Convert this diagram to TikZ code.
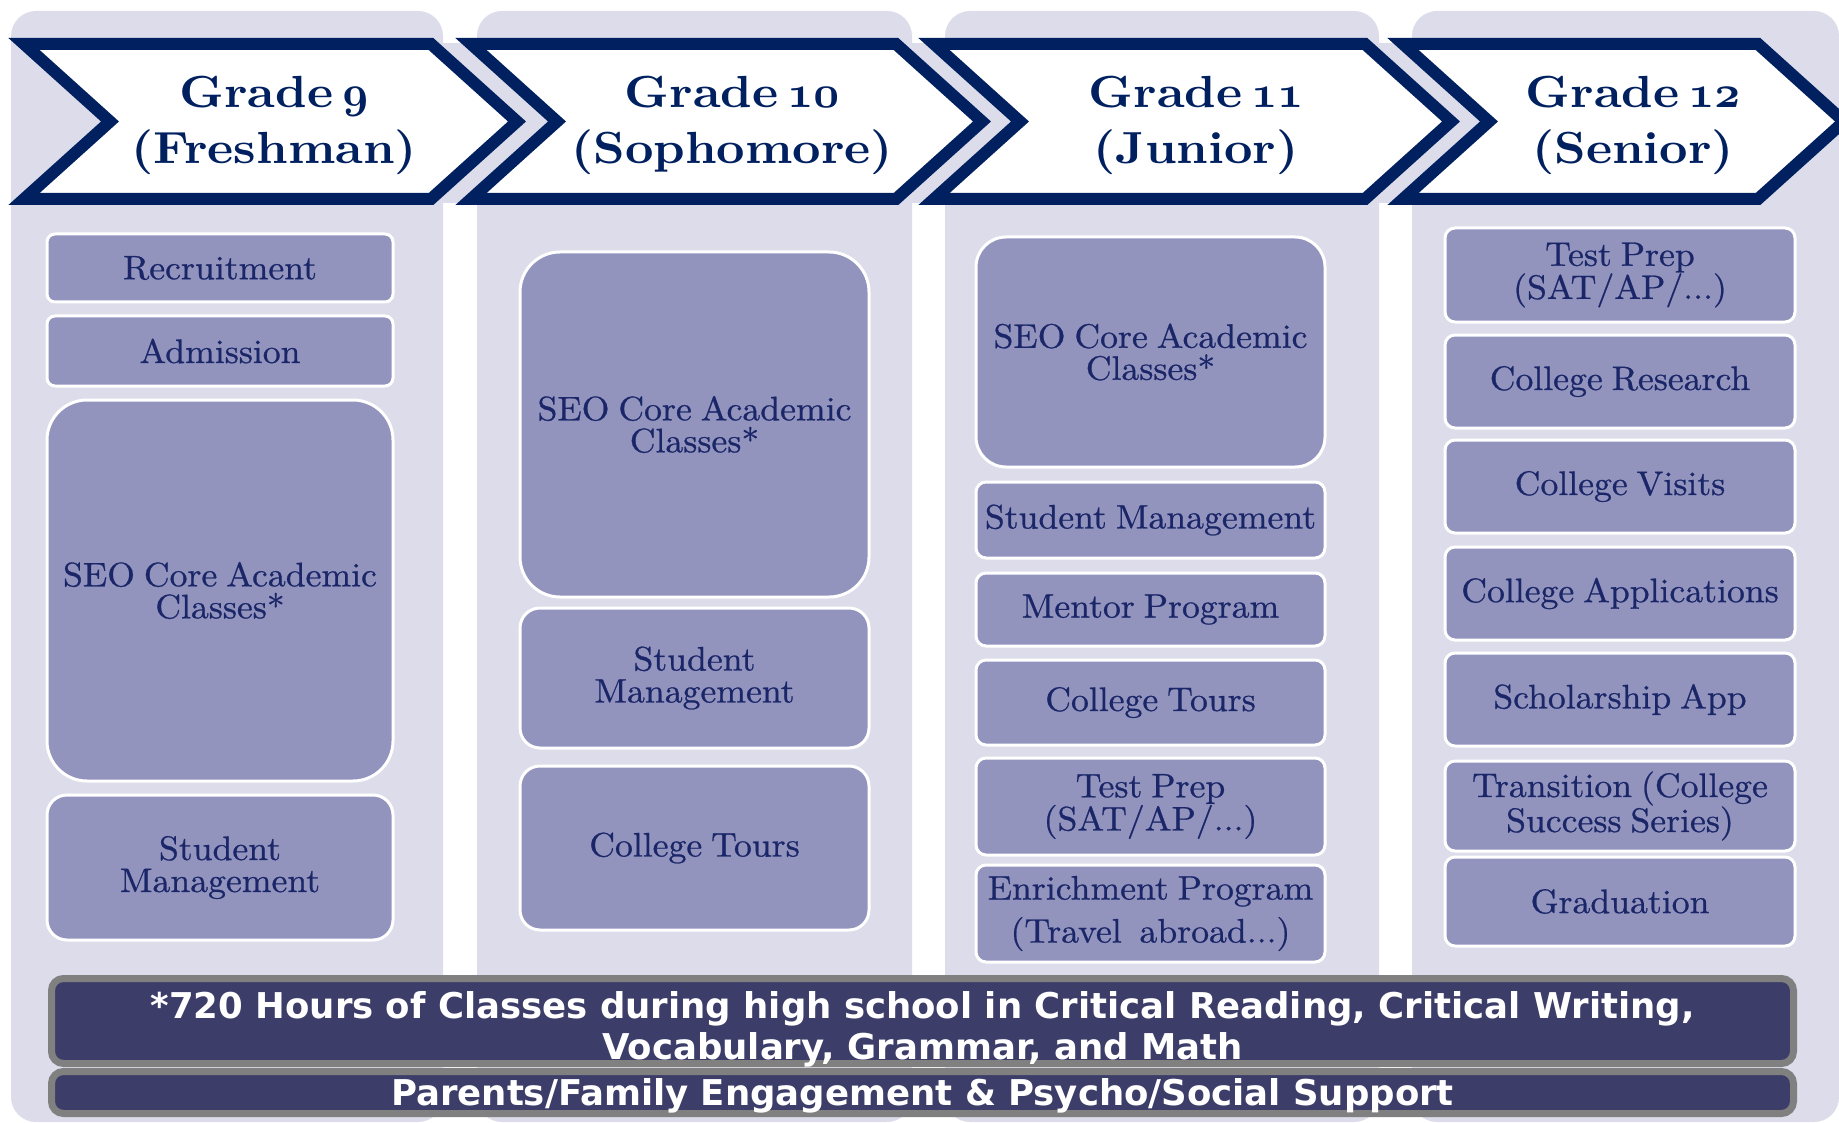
\documentclass[tikz,border=0pt]{standalone}
\usepackage{fontspec}
\newfontfamily\barfont{DejaVu Sans}
\newfontfamily\boxfont{lmroman10-regular.otf}[FakeStretch=1.05, FakeBold=0.7, WordSpace=0.75]
\newfontfamily\hdrfont{lmroman10-bold.otf}[FakeStretch=1.1]
% old-style figures from the bold math italic, scalable to any size
\DeclareFontFamily{OML}{osfb}{}
\DeclareFontShape{OML}{osfb}{b}{it}{<-> cmmib10}{}
\newcommand\osfig[1]{{\usefont{OML}{osfb}{b}{it}#1}}
\newcommand\gradeword{Grade\hspace{0.2em}}
\definecolor{colbg}{HTML}{DCDCEA}
\definecolor{navy}{HTML}{002060}
\definecolor{boxfill}{HTML}{9294BE}
\definecolor{boxtext}{HTML}{1A2668}
\definecolor{barfill}{HTML}{3D3D69}
\definecolor{bargray}{HTML}{808080}
\begin{document}
\begin{tikzpicture}[x=1pt,y=-1pt,
  column/.style={fill=colbg, rounded corners=25pt},
  chevron/.style={draw=navy, line width=12pt, fill=white, line join=miter},
  grade/.style={text=navy, align=center, inner sep=0pt,
    font=\hdrfont\fontsize{45}{56}\selectfont},
  item/.style={draw=white, line width=3pt, fill=boxfill, text=boxtext,
    align=center, inner sep=0pt, rounded corners=10pt,
    font=\boxfont\fontsize{34}{32}\selectfont},
  w1/.style={minimum width=346pt},
  w2/.style={minimum width=349pt},
  w3/.style={minimum width=349pt},
  w4/.style={minimum width=350pt},
  bar/.style={draw=bargray, line width=7pt, fill=barfill, rounded corners=12pt,
    minimum width=1742pt},
  bartext/.style={text=white, align=center, inner sep=0pt,
    font=\barfont\bfseries\fontsize{35.5}{41}\selectfont}]
\useasboundingbox (0,0) rectangle (1839,1123);

% column backgrounds and the band behind the grade headers
\fill[column] (11,11) rectangle (443,1122);
\fill[column] (477,11) rectangle (912,1122);
\fill[column] (945,11) rectangle (1379,1122);
\fill[column] (1412,11) rectangle (1839,1122);
\fill[colbg] (11,43) rectangle (1839,203);

% grade chevrons
\draw[chevron] (24,44) -- (431,44) -- (517,121.5) -- (431,199) -- (24,199) -- (110,121.5) -- cycle;
\draw[chevron] (471,44) -- (896,44) -- (982,121.5) -- (896,199) -- (471,199) -- (557,121.5) -- cycle;
\draw[chevron] (934,44) -- (1365,44) -- (1451,121.5) -- (1365,199) -- (934,199) -- (1020,121.5) -- cycle;
\draw[chevron] (1403,44) -- (1758,44) -- (1844,121.5) -- (1758,199) -- (1403,199) -- (1489,121.5) -- cycle;

\node[grade] (g9)  at (274,125)  {\gradeword\osfig{9}\\(Freshman)};
\node[grade] (g10) at (732,125)  {\gradeword\osfig{10}\\(Sophomore)};
\node[grade] (g11) at (1196,125) {\gradeword\osfig{11}\\(Junior)};
\node[grade] (g12) at (1633,125) {\gradeword\osfig{12}\\(Senior)};

% Grade 9
\node[item, w1, minimum height=68pt, rounded corners=8pt]  (rec)  at (220,268)   {Recruitment};
\node[item, w1, minimum height=70pt, rounded corners=8pt]  (adm)  at (220,351)   {Admission};
\node[item, w1, minimum height=381pt, rounded corners=40pt] (seoA) at (220,590.5) {SEO Core Academic\\Classes*};
\node[item, w1, minimum height=145pt, rounded corners=20pt] (smA)  at (220,867.5) {Student\\Management};

% Grade 10
\node[item, w2, minimum height=345pt, rounded corners=40pt] (seoB) at (694.5,424.5) {SEO Core Academic\\Classes*};
\node[item, w2, minimum height=140pt, rounded corners=20pt] (smB)  at (694.5,678)   {Student\\Management};
\node[item, w2, minimum height=164pt, rounded corners=20pt] (ctB)  at (694.5,848)   {College Tours};

% Grade 11
\node[item, w3, minimum height=230pt, rounded corners=30pt] (seoC) at (1150.5,352)   {SEO Core Academic\\Classes*};
\node[item, w3, minimum height=76pt]  (smC) at (1150.5,520)   {Student Management};
\node[item, w3, minimum height=73pt]  (mpC) at (1150.5,609.5) {Mentor Program};
\node[item, w3, minimum height=85pt]  (ctC) at (1150.5,702.5) {College Tours};
\node[item, w3, minimum height=97pt]  (tpC) at (1150.5,806.5) {Test Prep\\(SAT/AP/...)};
\node[item, w3, minimum height=97pt, font=\boxfont\fontsize{34}{43}\selectfont] (enC) at (1150.5,913.5) {Enrichment Program\\(Travel\ \ abroad...)};

% Grade 12
\node[item, w4, minimum height=94pt] (tpD) at (1620,275)   {Test Prep\\(SAT/AP/...)};
\node[item, w4, minimum height=93pt] (crD) at (1620,381.5) {College Research};
\node[item, w4, minimum height=93pt] (cvD) at (1620,486.5) {College Visits};
\node[item, w4, minimum height=93pt] (caD) at (1620,593.5) {College Applications};
\node[item, w4, minimum height=93pt] (saD) at (1620,699.5) {Scholarship App};
\node[item, w4, minimum height=90pt] (trD) at (1620,806)   {Transition (College\\Success Series)};
\node[item, w4, minimum height=89pt] (grD) at (1620,901.5) {Graduation};

% program-wide bars
\node[bar, minimum height=85pt] (hours)  at (922.5,1021)   {};
\node[bar, minimum height=42pt] (family) at (922.5,1092.5) {};
\node[bartext] (hoursText) at ([yshift=-8pt]hours.center)
  {*720 Hours of Classes during high school in Critical Reading, Critical Writing,\\Vocabulary, Grammar, and Math};
\node[bartext] (familyText) at ([yshift=-3pt]family.center)
  {Parents/Family Engagement \& Psycho/Social Support};
\end{tikzpicture}
\end{document}
